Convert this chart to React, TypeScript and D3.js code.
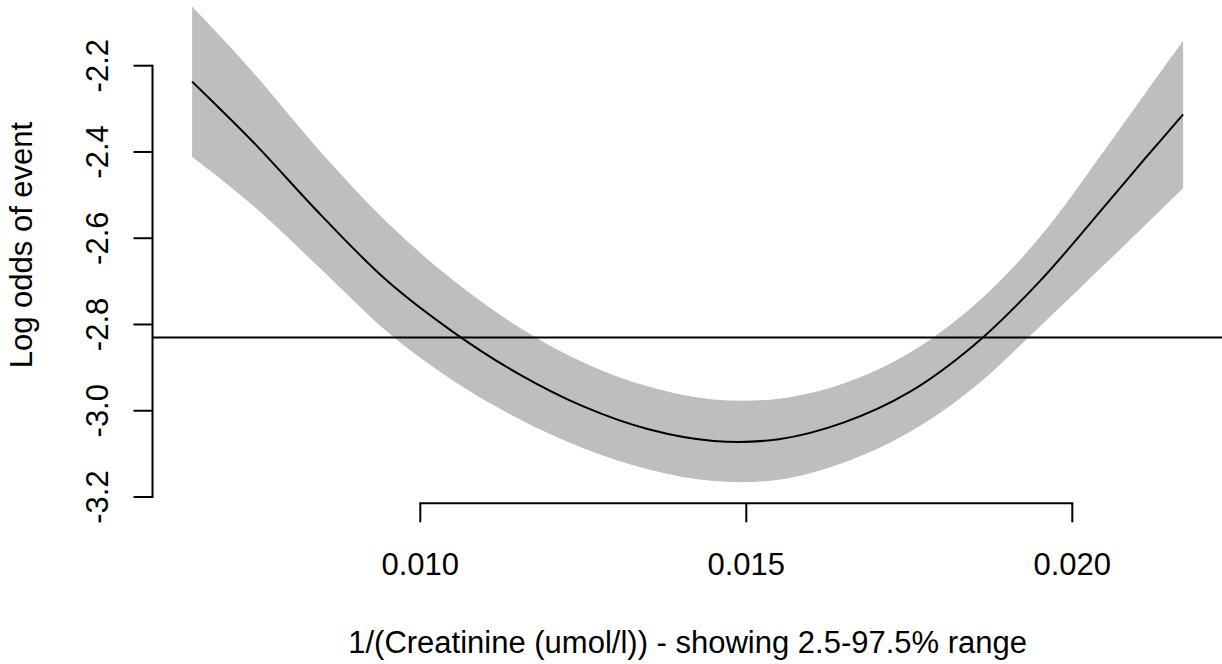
import React from "react";
import * as d3 from "d3";

// 1/creatinine values (x) and log-odds fit with 95% band
const xValues = [0.0065, 0.0070, 0.0075, 0.0085, 0.0095, 0.0105, 0.0115, 0.0125, 0.0135, 0.0145, 0.0155, 0.0165, 0.0175, 0.0185, 0.0195, 0.0205, 0.0211, 0.0217];
const fitValues = [-2.237, -2.311, -2.387, -2.550, -2.700, -2.817, -2.914, -2.990, -3.043, -3.070, -3.066, -3.027, -2.957, -2.847, -2.700, -2.525, -2.418, -2.313];
const upperValues = [-2.063, -2.143, -2.227, -2.405, -2.565, -2.697, -2.805, -2.888, -2.944, -2.974, -2.972, -2.936, -2.866, -2.755, -2.598, -2.395, -2.268, -2.142];
const lowerValues = [-2.411, -2.470, -2.533, -2.675, -2.818, -2.930, -3.018, -3.087, -3.136, -3.163, -3.160, -3.120, -3.050, -2.945, -2.805, -2.660, -2.572, -2.484];

const xTicks = [0.010, 0.015, 0.020];
const xTickLabels = ["0.010", "0.015", "0.020"];
const yTicks = [-3.2, -3.0, -2.8, -2.6, -2.4, -2.2];
const yTickLabels = ["-3.2", "-3.0", "-2.8", "-2.6", "-2.4", "-2.2"];
const refLineValue = [-2.83];

const xTitle = "1/(Creatinine (umol/l)) - showing 2.5-97.5% range";
const yTitle = "Log odds of event";

export default function App() {
  const W = 1222;
  const H = 664;
  const font = "'Liberation Sans', Arial, Helvetica, sans-serif";
  const fs = 31;

  const x = d3.scaleLinear().domain([0.010, 0.020]).range([420.3, 1072.3]);
  const y = d3.scaleLinear().domain([-3.2, -2.2]).range([497, 65.7]);

  const plotLeft = 152.5;
  const plotRight = 1222.8;
  const plotTop = -13.2;
  const axisY = 503.3;
  const tick = 19;

  const pts = xValues.map((v, i) => ({ x: v, f: fitValues[i], lo: lowerValues[i], hi: upperValues[i] }));
  const area = d3
    .area<any>()
    .x((d) => x(d.x))
    .y0((d) => y(d.lo))
    .y1((d) => y(d.hi))
    .curve(d3.curveCatmullRom.alpha(0.5));
  const line = d3
    .line<any>()
    .x((d) => x(d.x))
    .y((d) => y(d.f))
    .curve(d3.curveCatmullRom.alpha(0.5));

  return (
    <svg
      width={W}
      height={H}
      style={{ position: "absolute", left: 0, top: 0, background: "#fff" }}
      fontFamily={font}
    >
      <rect x={0} y={0} width={W} height={H} fill="#fff" />
      <path d={area(pts) || ""} fill="#BEBEBE" stroke="none" />
      <path d={line(pts) || ""} fill="none" stroke="#000" strokeWidth={2} />
      {refLineValue.map((v, i) => (
        <line key={i} x1={plotLeft} x2={plotRight} y1={y(v)} y2={y(v)} stroke="#000" strokeWidth={2} />
      ))}

      {/* y axis */}
      <line x1={plotLeft} x2={plotLeft} y1={y(-3.2)} y2={y(-2.2)} stroke="#000" strokeWidth={2} strokeLinecap="square" />
      {yTicks.map((t, i) => (
        <g key={t}>
          <line x1={plotLeft - tick} x2={plotLeft} y1={y(t)} y2={y(t)} stroke="#000" strokeWidth={2} />
          <text
            transform={`translate(${108},${y(t)}) rotate(-90)`}
            textAnchor="middle"
            fontSize={fs}
            fill="#000"
          >
            {yTickLabels[i]}
          </text>
        </g>
      ))}
      <text
        transform={`translate(${32},${(plotTop + axisY) / 2}) rotate(-90)`}
        textAnchor="middle"
        fontSize={fs}
        fill="#000"
      >
        {yTitle}
      </text>

      {/* x axis */}
      <line x1={x(0.010)} x2={x(0.020)} y1={axisY} y2={axisY} stroke="#000" strokeWidth={2} strokeLinecap="square" />
      {xTicks.map((t, i) => (
        <g key={t}>
          <line x1={x(t)} x2={x(t)} y1={axisY} y2={axisY + tick} stroke="#000" strokeWidth={2} />
          <text x={x(t)} y={575} textAnchor="middle" fontSize={fs} fill="#000">
            {xTickLabels[i]}
          </text>
        </g>
      ))}
      <text x={(plotLeft + plotRight) / 2} y={653} textAnchor="middle" fontSize={fs} fill="#000">
        {xTitle}
      </text>
    </svg>
  );
}
